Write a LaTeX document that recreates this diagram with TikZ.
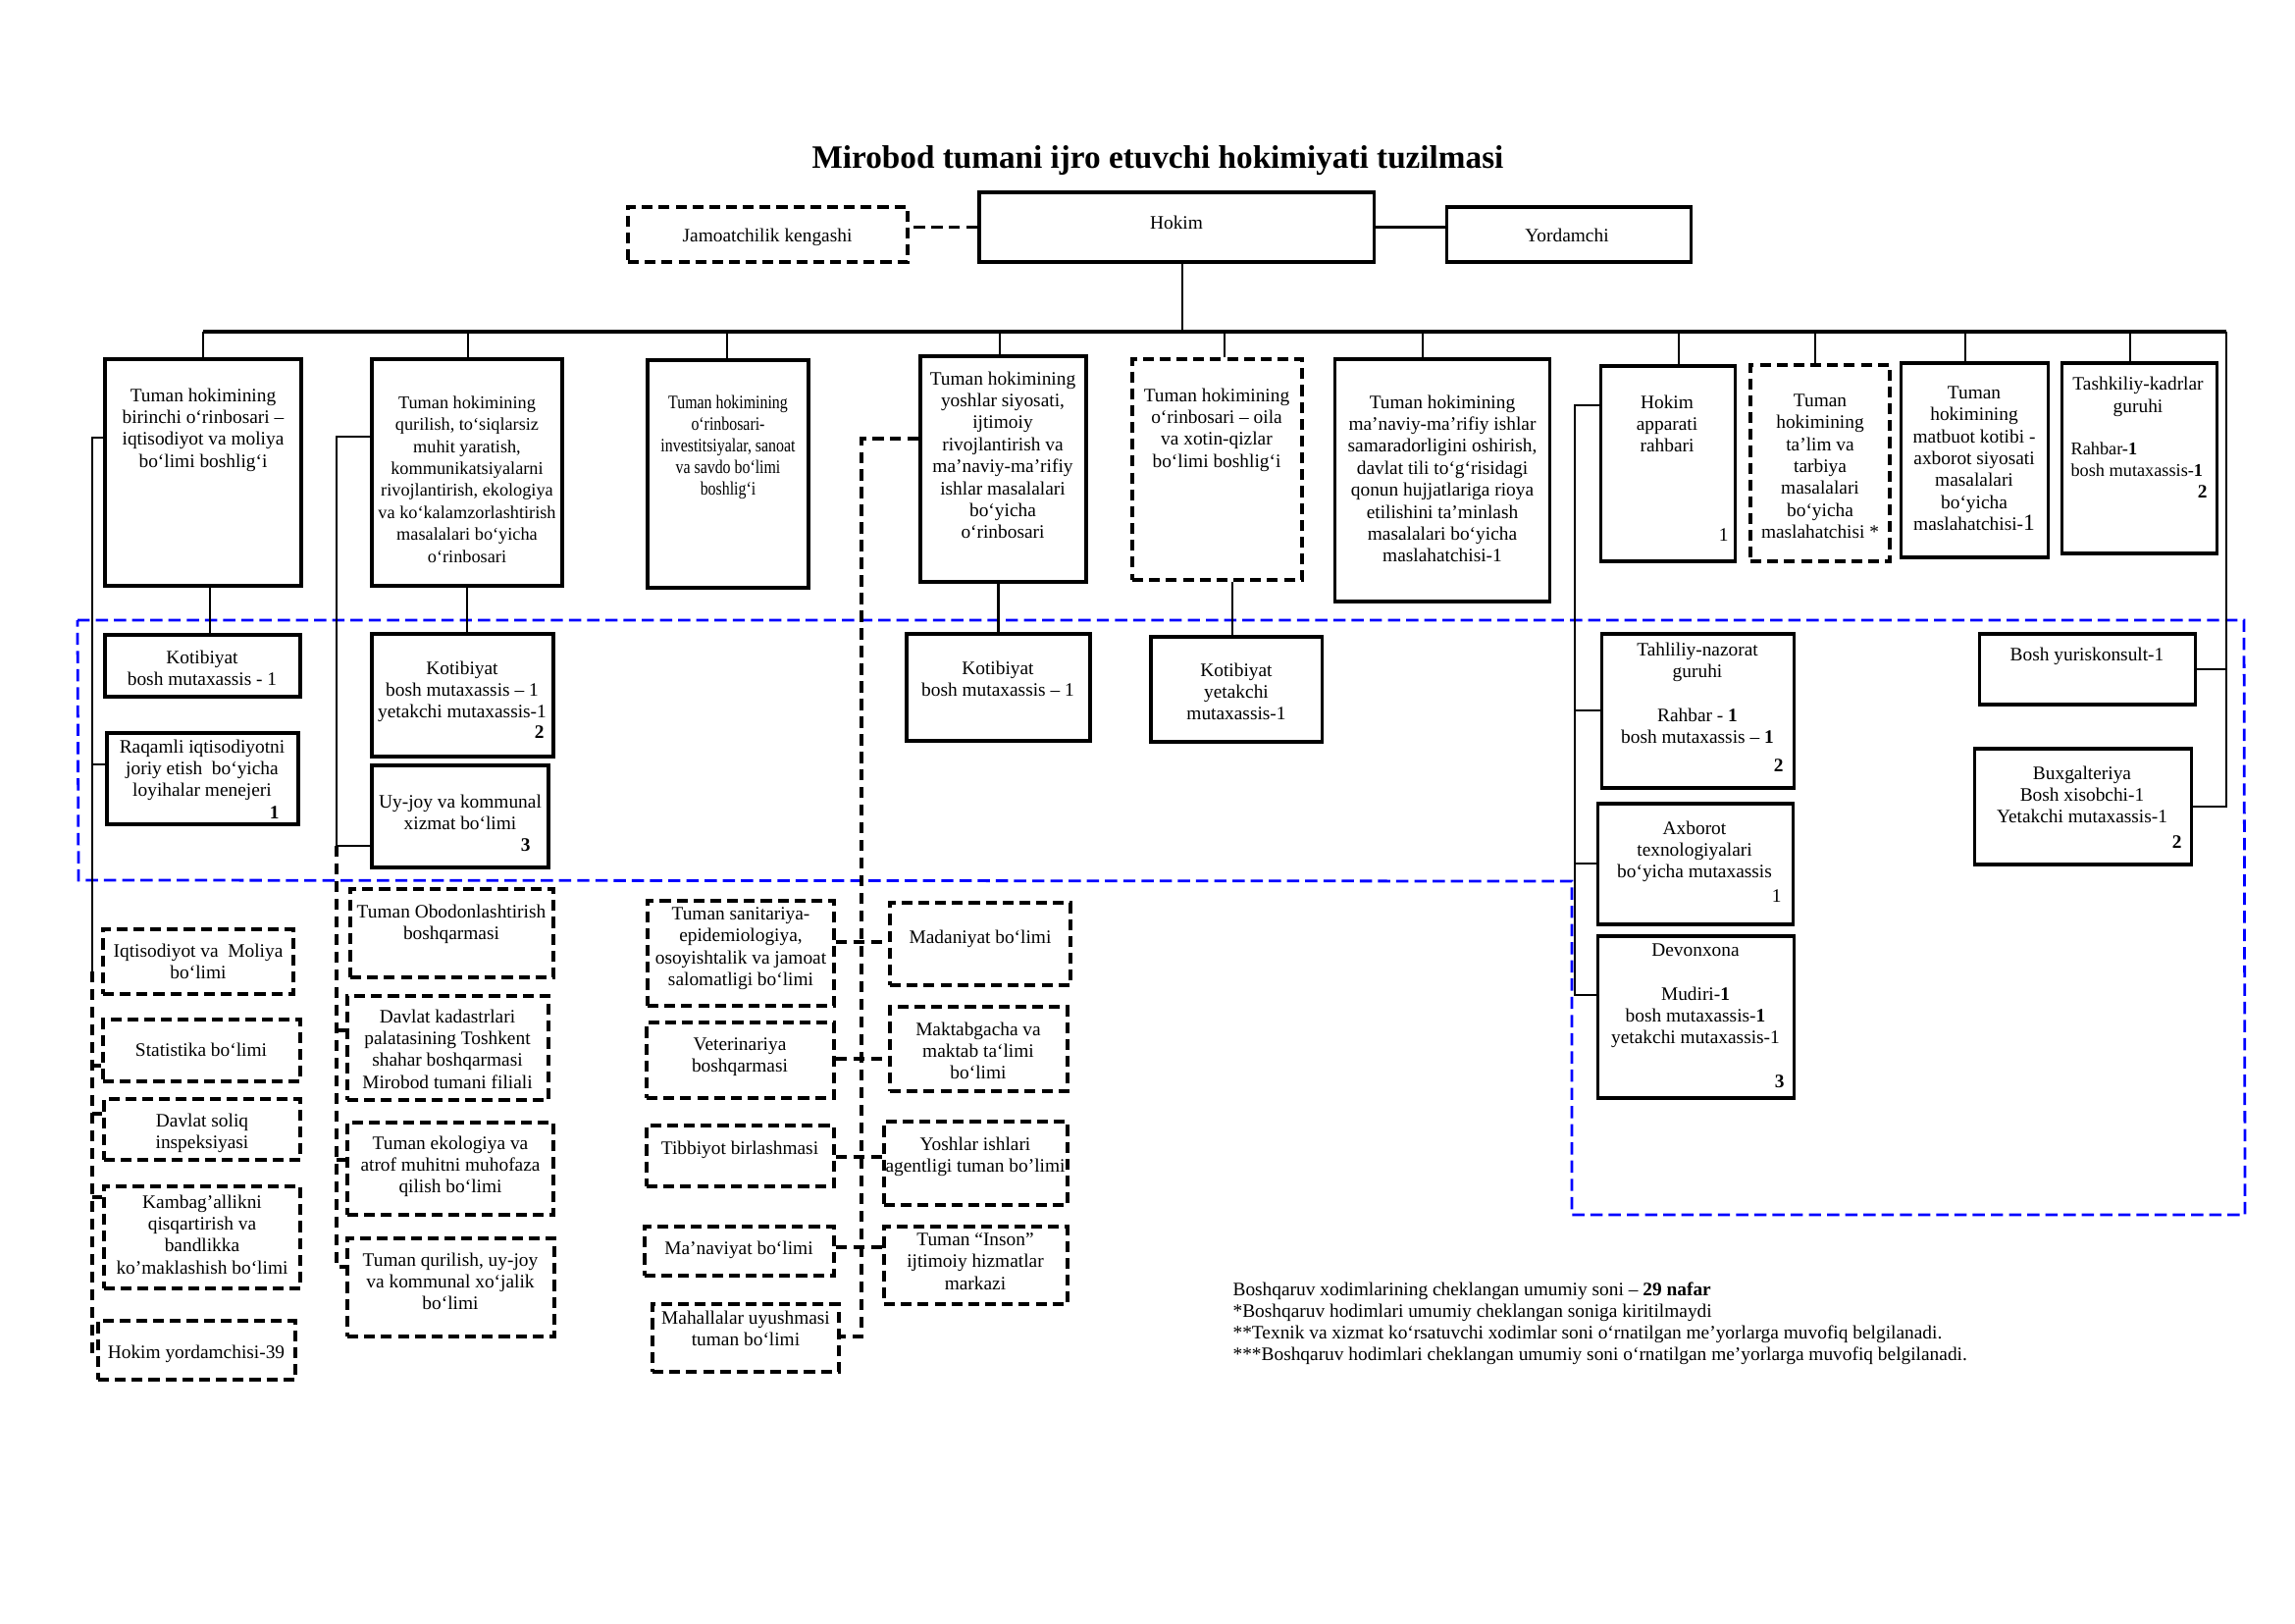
\documentclass[tikz,border=0pt]{standalone}
\usepackage{fontspec}
\setmainfont{Liberation Serif}
\newfontfamily\condserif[FakeStretch=0.82]{Liberation Serif}
\usetikzlibrary{fit}
\newcommand{\mkbox}[6]{\node[#2, fit={(#3,#4) (#5,#6)}] (#1) {};}
\begin{document}
\begin{tikzpicture}[x=0.0126977cm, y=-0.0126977cm,
  bx/.style={draw, line width=1.1pt, inner sep=0pt},
  dbx/.style={bx, line width=1.2pt, dash pattern=on 4pt off 2.2pt},
  tx/.style={align=center, inner sep=0pt, font=\fontsize{7}{8.1}\selectfont, anchor=north},
  txs/.style={tx, font=\condserif\fontsize{7}{7.9}\selectfont},
  txm/.style={tx, font=\fontsize{6.6}{8.1}\selectfont},
  ln/.style={line width=0.9pt},
  dln/.style={line width=1.2pt, dash pattern=on 4pt off 2.5pt},
  bl/.style={draw=blue, line width=1pt, dash pattern=on 4.5pt off 2.2pt},
  num/.style={inner sep=0pt, font=\fontsize{7}{8}\selectfont\bfseries, anchor=east},
  numr/.style={num, font=\fontsize{7}{8}\selectfont}]
\useasboundingbox (0,0) rectangle (2339,1654);

% title
\node[inner sep=0pt, anchor=base, font=\fontsize{12}{14}\selectfont\bfseries] (title) at (1180,172) {Mirobod tumani ijro etuvchi hokimiyati tuzilmasi};

% blue dashed frame
\draw[bl] (79,632) -- (2287,632) -- (2288,1238) -- (1602,1238) -- (1602,898) -- (80,897) -- cycle;

% top row
\mkbox{Jam}{dbx}{640}{211}{925}{267}
\mkbox{Hokim}{bx}{998}{196}{1400}{267}
\mkbox{Yord}{bx}{1474}{211}{1723}{267}
\node[tx] (tJam) at (782,233) {Jamoatchilik kengashi};
\node[tx] (tHokim) at (1199,220) {Hokim};
\node[tx] (tYord) at (1597,233) {Yordamchi};

% second row
\mkbox{A1}{bx}{107}{366}{307}{597}
\mkbox{A2}{bx}{379}{366}{573}{597}
\mkbox{A3}{bx}{660}{367}{824}{599}
\mkbox{A4}{bx}{938}{363}{1107}{593}
\mkbox{A5}{dbx}{1154}{366}{1327}{591}
\mkbox{A6}{bx}{1360}{366}{1579}{613}
\mkbox{B1}{bx}{1631}{373}{1768}{572}
\mkbox{B2}{dbx}{1784}{372}{1926}{572}
\mkbox{B3}{bx}{1937}{370}{2087}{568}
\mkbox{B4}{bx}{2101}{370}{2259}{564}

\node[tx] (tA1) at (207,395) {Tuman hokimining\\birinchi o‘rinbosari –\\iqtisodiyot va moliya\\bo‘limi boshlig‘i};
\node[txm] (tA2) at (476,403) {Tuman hokimining\\qurilish, to‘siqlarsiz\\muhit yaratish,\\kommunikatsiyalarni\\rivojlantirish, ekologiya\\va ko‘kalamzorlashtirish\\masalalari bo‘yicha\\o‘rinbosari};
\node[txs] (tA3) at (742,403) {Tuman hokimining\\o‘rinbosari-\\investitsiyalar, sanoat\\va savdo bo‘limi\\boshlig‘i};
\node[tx] (tA4) at (1022,378) {Tuman hokimining\\yoshlar siyosati,\\ijtimoiy\\rivojlantirish va\\ma’naviy-ma’rifiy\\ishlar masalalari\\bo‘yicha\\o‘rinbosari};
\node[tx] (tA5) at (1240,395) {Tuman hokimining\\o‘rinbosari – oila\\va xotin-qizlar\\bo‘limi boshlig‘i};
\node[tx] (tA6) at (1470,402) {Tuman hokimining\\ma’naviy-ma’rifiy ishlar\\samaradorligini oshirish,\\davlat tili to‘g‘risidagi\\qonun hujjatlariga rioya\\etilishini ta’minlash\\masalalari bo‘yicha\\maslahatchisi-1};
\node[tx] (tB1) at (1699,402) {Hokim\\apparati\\rahbari};
\node[numr] (nB1) at (1762,545) {1};
\node[tx] (tB2) at (1855,401) {Tuman\\hokimining\\ta’lim va\\tarbiya\\masalalari\\bo‘yicha\\maslahatchisi *};
\node[tx] (tB3) at (2012,393) {Tuman\\hokimining\\matbuot kotibi -\\axborot siyosati\\masalalari\\bo‘yicha\\maslahatchisi-{\fontsize{8.5}{8}\selectfont 1}};
\node[tx] (tB4) at (2179,384) {Tashkiliy-kadrlar\\guruhi};
\node[tx, align=left, anchor=north west, font=\fontsize{6.6}{8.1}\selectfont] (tB4b) at (2110,450) {Rahbar-\textbf{1}\\bosh mutaxassis-\textbf{1}};
\node[num] (nB4) at (2250,501) {2};

% third row (inside blue frame)
\mkbox{K1}{bx}{107}{647}{306}{710}
\mkbox{R1}{bx}{109}{747}{304}{840}
\mkbox{K2}{bx}{379}{646}{564}{771}
\mkbox{U1}{bx}{379}{780}{559}{884}
\mkbox{K3}{bx}{924}{646}{1111}{755}
\mkbox{K4}{bx}{1173}{649}{1347}{756}
\mkbox{T1}{bx}{1632}{646}{1828}{803}
\mkbox{AX}{bx}{1628}{819}{1827}{942}
\mkbox{DV}{bx}{1628}{954}{1828}{1119}
\mkbox{BY}{bx}{2017}{646}{2237}{718}
\mkbox{BX}{bx}{2012}{763}{2233}{881}

\node[tx] (tK1) at (206,662) {Kotibiyat\\bosh mutaxassis - 1};
\node[tx] (tR1) at (206,753) {Raqamli iqtisodiyotni\\joriy etish\ \ bo‘yicha\\loyihalar menejeri};
\node[num] (nR1) at (285,828) {1};
\node[tx] (tK2) at (471,673) {Kotibiyat\\bosh mutaxassis – 1\\yetakchi mutaxassis-1};
\node[num] (nK2) at (555,746) {2};
\node[tx] (tU1) at (469,809) {Uy-joy va kommunal\\xizmat bo‘limi};
\node[num] (nU1) at (541,861) {3};
\node[tx] (tK3) at (1017,673) {Kotibiyat\\bosh mutaxassis – 1};
\node[tx] (tK4) at (1260,675) {Kotibiyat\\yetakchi\\mutaxassis-1};
\node[tx] (tT1) at (1730,654) {Tahliliy-nazorat\\guruhi\\~\\Rahbar - \textbf{1}\\bosh mutaxassis – \textbf{1}};
\node[num] (nT1) at (1818,780) {2};
\node[tx] (tAX) at (1727,836) {Axborot\\texnologiyalari\\bo‘yicha mutaxassis};
\node[numr] (nAX) at (1816,913) {1};
\node[tx] (tDV) at (1728,961) {Devonxona\\~\\Mudiri-\textbf{1}\\bosh mutaxassis-\textbf{1}\\yetakchi mutaxassis-1};
\node[num] (nDV) at (1819,1102) {3};
\node[tx] (tBY) at (2127,659) {Bosh yuriskonsult-1};
\node[tx] (tBX) at (2122,780) {Buxgalteriya\\Bosh xisobchi-1\\Yetakchi mutaxassis-1};
\node[num] (nBX) at (2224,858) {2};

% lower dashed boxes
\mkbox{D1}{dbx}{105}{947}{299}{1013}
\mkbox{D2}{dbx}{105}{1039}{306}{1102}
\mkbox{D3}{dbx}{106}{1120}{306}{1182}
\mkbox{D4}{dbx}{106}{1209}{306}{1313}
\mkbox{D5}{dbx}{100}{1346}{301}{1406}
\mkbox{D6}{dbx}{357}{906}{564}{996}
\mkbox{D7}{dbx}{354}{1015}{559}{1121}
\mkbox{D8}{dbx}{354}{1144}{564}{1238}
\mkbox{D9}{dbx}{354}{1262}{565}{1362}
\mkbox{E1}{dbx}{660}{918}{850}{1025}
\mkbox{E2}{dbx}{659}{1042}{850}{1119}
\mkbox{E3}{dbx}{659}{1147}{850}{1209}
\mkbox{E4}{dbx}{657}{1250}{850}{1300}
\mkbox{E5}{dbx}{665}{1329}{855}{1398}
\mkbox{F1}{dbx}{907}{920}{1091}{1004}
\mkbox{F2}{dbx}{907}{1026}{1088}{1112}
\mkbox{F3}{dbx}{901}{1143}{1088}{1228}
\mkbox{F4}{dbx}{901}{1250}{1088}{1329}

\node[tx] (tD1) at (202,961) {Iqtisodiyot va\ \ Moliya\\bo‘limi};
\node[tx] (tD2) at (205,1062) {Statistika bo‘limi};
\node[tx] (tD3) at (206,1134) {Davlat soliq\\inspeksiyasi};
\node[tx] (tD4) at (206,1217) {Kambag’allikni\\qisqartirish va\\bandlikka\\ko’maklashish bo‘limi};
\node[tx] (tD5) at (200,1370) {Hokim yordamchisi-39};
\node[tx] (tD6) at (460,921) {Tuman Obodonlashtirish\\boshqarmasi};
\node[tx] (tD7) at (456,1028) {Davlat kadastrlari\\palatasining Toshkent\\shahar boshqarmasi\\Mirobod tumani filiali};
\node[tx] (tD8) at (459,1157) {Tuman ekologiya va\\atrof muhitni muhofaza\\qilish bo‘limi};
\node[tx] (tD9) at (459,1276) {Tuman qurilish, uy-joy\\va kommunal xo‘jalik\\bo‘limi};
\node[tx] (tE1) at (755,924) {Tuman sanitariya-\\epidemiologiya,\\osoyishtalik va jamoat\\salomatligi bo‘limi};
\node[tx] (tE2) at (754,1057) {Veterinariya\\boshqarmasi};
\node[tx] (tE3) at (754,1162) {Tibbiyot birlashmasi};
\node[tx] (tE4) at (753,1264) {Ma’naviyat bo‘limi};
\node[tx] (tE5) at (760,1335) {Mahallalar uyushmasi\\tuman bo‘limi};
\node[tx] (tF1) at (999,947) {Madaniyat bo‘limi};
\node[tx] (tF2) at (997,1041) {Maktabgacha va\\maktab ta‘limi\\bo‘limi};
\node[tx] (tF3) at (994,1158) {Yoshlar ishlari\\agentligi tuman bo’limi};
\node[tx] (tF4) at (994,1256) {Tuman “Inson”\\ijtimoiy hizmatlar\\markazi};

% footnotes
\node[inner sep=0pt, anchor=north west, align=left, font=\fontsize{7}{8}\selectfont] (notes) at (1256,1306)
 {Boshqaruv xodimlarining cheklangan umumiy soni – \textbf{29 nafar}\\{}*Boshqaruv hodimlari umumiy cheklangan soniga kiritilmaydi\\{}**Texnik va xizmat ko‘rsatuvchi xodimlar soni o‘rnatilgan me’yorlarga muvofiq belgilanadi.\\{}***Boshqaruv hodimlari cheklangan umumiy soni o‘rnatilgan me’yorlarga muvofiq belgilanadi.};

% ---- connectors ----
\draw[dln] (Hokim.west) -- (Hokim.west -| Jam.east);
\draw[line width=1.3pt] (Hokim.east) -- (Hokim.east -| Yord.west);
\coordinate (busH) at (1205,338);
\coordinate (busL) at (207,338);
\coordinate (busR) at (2269,338);
\draw[ln] (Hokim.south -| busH) -- (busH);
\draw[line width=1.2pt] (busL) -- (busR);
\coordinate (d1) at (207,338);
\coordinate (d2) at (477,338);
\coordinate (d3) at (741,338);
\coordinate (d4) at (1019,338);
\coordinate (d5) at (1248,338);
\coordinate (d6) at (1450,338);
\coordinate (d7) at (1711,338);
\coordinate (d8) at (1850,338);
\coordinate (d9) at (2003,338);
\coordinate (d10) at (2171,338);
\draw[ln] (d1) -- (d1 |- A1.north);
\draw[ln] (d2) -- (d2 |- A2.north);
\draw[ln] (d3) -- (d3 |- A3.north);
\draw[ln] (d4) -- (d4 |- A4.north);
\draw[ln] (d5) -- (d5 |- A5.north);
\draw[ln] (d6) -- (d6 |- A6.north);
\draw[ln] (d7) -- (d7 |- B1.north);
\draw[ln] (d8) -- (d8 |- B2.north);
\draw[ln] (d9) -- (d9 |- B3.north);
\draw[ln] (d10) -- (d10 |- B4.north);
% right spine
\draw[ln] (busR) |- (BX.east);
\draw[ln] (BY.east) -- (BY.east -| busR);
% drops to secretariats
\coordinate (k1d) at (214,0);
\coordinate (k4d) at (1256,0);
\draw[ln] (A1.south -| k1d) -- (K1.north -| k1d);
\draw[ln] (A2.south) -- (A2.south |- K2.north);
\draw[ln] (K3.north |- A4.south) -- (K3.north);
\draw[ln] (A5.south -| k4d) -- (K4.north -| k4d);
% spine 1
\coordinate (s1t) at (94,446);
\coordinate (s1m) at (94,990);
\coordinate (jR1) at (94,779);
\coordinate (jD2) at (94,1086);
\coordinate (jD3) at (94,1135);
\coordinate (jD4) at (94,1220);
\coordinate (jD5) at (94,1381);
\draw[ln] (A1.west |- s1t) -- (s1t) -- (s1m);
\draw[ln] (jR1) -- (jR1 -| R1.west);
\draw[dln] (s1m) -- (jD5) -- (jD5 -| D5.west);
\draw[dln] (jD2) -- (jD2 -| D2.west);
\draw[dln] (jD3) -- (jD3 -| D3.west);
\draw[dln] (jD4) -- (jD4 -| D4.west);
% spine 2
\coordinate (s2t) at (343,445);
\coordinate (s2m) at (343,862);
\coordinate (jD7) at (343,1050);
\coordinate (jD8) at (343,1182);
\coordinate (jD9) at (343,1291);
\draw[ln] (A2.west |- s2t) -- (s2t) -- (s2m) -- (s2m -| U1.west);
\draw[dln] (s2m) -- (jD9) -- (jD9 -| D9.west);
\draw[dln] (jD7) -- (jD7 -| D7.west);
\draw[dln] (jD8) -- (jD8 -| D8.west);
% spine 3 (dashed)
\coordinate (s3t) at (878,447);
\coordinate (jE1) at (878,960);
\coordinate (jE2) at (878,1079);
\coordinate (jE3) at (878,1179);
\coordinate (jE4) at (878,1271);
\coordinate (jE5) at (878,1362);
\draw[dln] (A4.west |- s3t) -- (s3t) -- (jE5) -- (jE5 -| E5.east);
\draw[dln] (jE1 -| E1.east) -- (jE1 -| F1.west);
\draw[dln] (jE2 -| E2.east) -- (jE2 -| F2.west);
\draw[dln] (jE3 -| E3.east) -- (jE3 -| F3.west);
\draw[dln] (jE4 -| E4.east) -- (jE4 -| F4.west);
% spine 4
\coordinate (s4t) at (1605,413);
\coordinate (jT1) at (1605,724);
\coordinate (jAX) at (1605,880);
\coordinate (jDV) at (1605,1014);
\draw[ln] (B1.west |- s4t) -- (s4t) -- (jDV) -- (jDV -| DV.west);
\draw[ln] (jT1) -- (jT1 -| T1.west);
\draw[ln] (jAX) -- (jAX -| AX.west);
\end{tikzpicture}
\end{document}
